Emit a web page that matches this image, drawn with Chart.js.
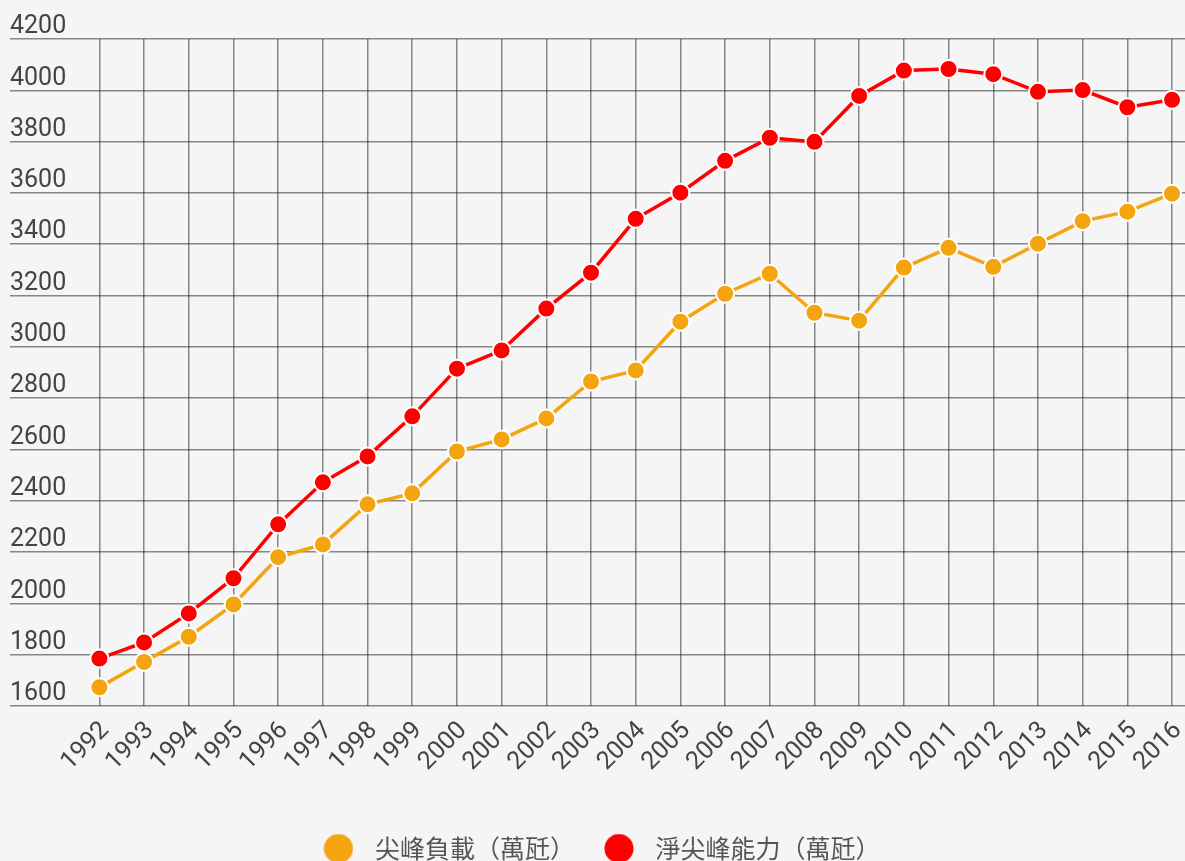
<!DOCTYPE html>
<html>
<head>
<meta charset="utf-8">
<script src="https://cdn.jsdelivr.net/npm/chart.js@4/dist/chart.umd.min.js"></script>
<style>
  html, body { margin: 0; padding: 0; background: #f5f5f5; }
  #wrap { width: 1185px; height: 861px; position: relative; }
</style>
</head>
<body>
<div id="wrap"><canvas id="c" width="1185" height="861"></canvas></div>
<script>
const years = [1992,1993,1994,1995,1996,1997,1998,1999,2000,2001,2002,2003,2004,2005,2006,2007,2008,2009,2010,2011,2012,2013,2014,2015,2016];
const peakLoad = [1673,1772,1870,1996,2180,2230,2386,2429,2592,2639,2721,2865,2908,3098,3207,3285,3133,3102,3309,3386,3312,3402,3490,3527,3597];
const netPeakCapability = [1785,1848,1961,2098,2308,2472,2573,2729,2915,2986,3149,3289,3499,3601,3725,3815,3799,3978,4077,4083,4063,3994,4001,3934,3963];
const yTickValues = [1600,1800,2000,2200,2400,2600,2800,3000,3200,3400,3600,3800,4000,4200];
const seriesNames = ['尖峰負載（萬瓩）', '淨尖峰能力（萬瓩）'];
const seriesColors = ['#f3a40f', '#ff0000'];

function dot(color) {
  const cv = document.createElement('canvas');
  cv.width = 30; cv.height = 30;
  const g = cv.getContext('2d');
  g.fillStyle = color;
  g.beginPath(); g.arc(15, 15, 14.5, 0, Math.PI * 2); g.fill();
  return cv;
}
const legendDots = seriesColors.map(dot);

function mk(i, vals) {
  return {
    label: seriesNames[i],
    data: years.map((y, k) => ({ x: y, y: vals[k] })),
    borderColor: seriesColors[i],
    backgroundColor: seriesColors[i],
    borderWidth: 3.5,
    pointRadius: 9,
    pointBorderWidth: 2,
    pointBorderColor: '#ffffff',
    pointBackgroundColor: seriesColors[i],
    pointHoverRadius: 9,
    tension: 0,
    clip: false
  };
}

const tickFont = { family: 'Roboto', size: 25, weight: '400' };

new Chart(document.getElementById('c'), {
  type: 'line',
  data: { datasets: [mk(0, peakLoad), mk(1, netPeakCapability)] },
  options: {
    responsive: false,
    animation: false,
    events: [],
    layout: { autoPadding: false, padding: { left: 10, right: 0, top: 39, bottom: -10 } },
    scales: {
      x: {
        type: 'linear',
        min: 1990,
        max: 2016.29,
        afterBuildTicks: s => { s.ticks = years.map(v => ({ value: v })); },
        afterFit: s => { s.height = 110; s.paddingLeft = 0; s.paddingRight = 0; },
        grid: { color: 'rgba(0,0,0,0.45)', lineWidth: 1.5, drawTicks: false },
        border: { display: false },
        ticks: {
          autoSkip: false,
          maxRotation: 45,
          minRotation: 45,
          padding: 10,
          labelOffset: 6,
          color: '#444',
          font: tickFont,
          callback: v => String(v)
        }
      },
      y: {
        min: 1600,
        max: 4200,
        afterBuildTicks: s => { s.ticks = yTickValues.map(v => ({ value: v })); },
        grid: { color: 'rgba(0,0,0,0.45)', lineWidth: 1.5, drawTicks: false },
        border: { display: false },
        ticks: {
          mirror: true,
          padding: 0,
          labelOffset: -12,
          color: '#444',
          font: tickFont,
          callback: v => String(v)
        }
      }
    },
    plugins: {
      tooltip: { enabled: false },
      legend: {
        position: 'bottom',
        labels: {
          usePointStyle: true,
          pointStyleWidth: 48,
          boxHeight: 24,
          padding: 20,
          color: '#555',
          font: { family: '"Noto Sans CJK TC"', size: 25 },
          generateLabels: chart => chart.data.datasets.map((d, i) => ({
            text: d.label,
            fillStyle: seriesColors[i],
            strokeStyle: seriesColors[i],
            lineWidth: 0,
            pointStyle: legendDots[i],
            fontColor: '#555',
            hidden: false,
            datasetIndex: i
          }))
        }
      }
    }
  }
});
</script>
</body>
</html>
